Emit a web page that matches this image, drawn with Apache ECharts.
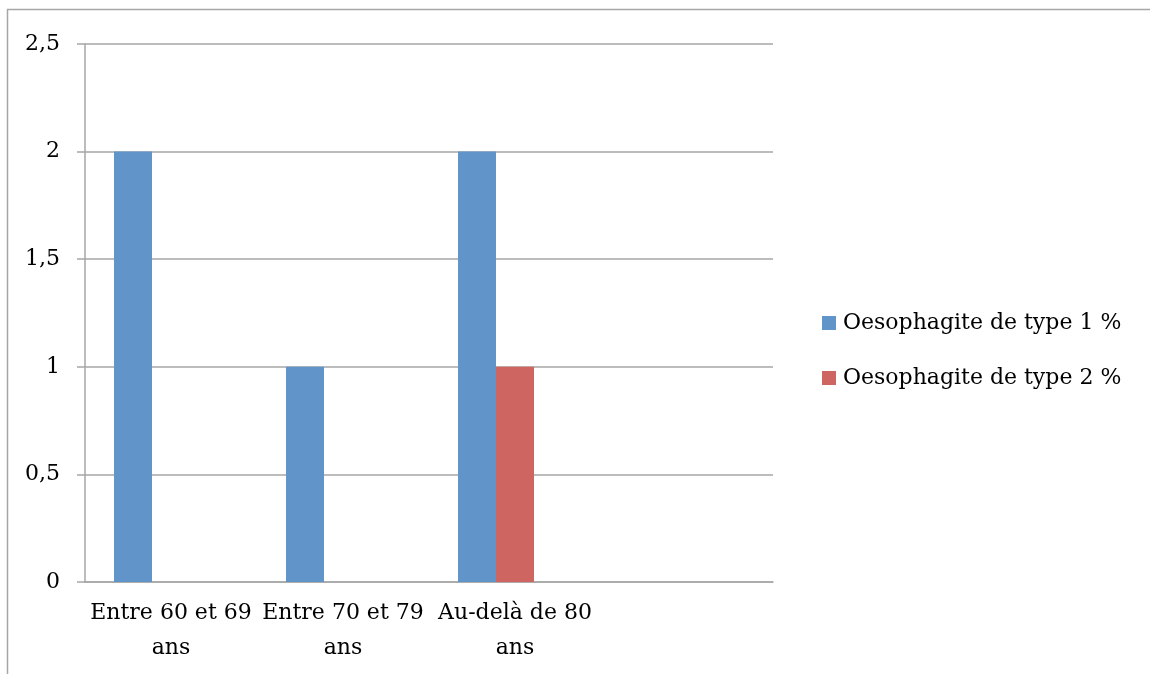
<!DOCTYPE html>
<html><head><meta charset="utf-8">
<script src="https://cdn.jsdelivr.net/npm/echarts@6/dist/echarts.min.js"></script>
<style>html,body{margin:0;padding:0;background:#fff}#c{width:1150px;height:674px}</style>
</head><body><div id="c"></div>
<script>
const categories = ["Entre 60 et 69\nans", "Entre 70 et 79\nans", "Au-delà de 80\nans", ""];
const type1 = [2, 1, 2, null];
const type2 = [null, null, 1, null];
const spacer = [null, null, null, null];
const seriesNames = ["Oesophagite de type 1 %", "Oesophagite de type 2 %"];
const yTicks = [0, 0.5, 1, 1.5, 2, 2.5];

const font = "'DejaVu Serif', serif";
const chart = echarts.init(document.getElementById('c'));
chart.setOption({
  animation: false,
  graphic: [{type:'rect', shape:{x:7.5,y:9.5,width:1200,height:700}, style:{fill:'none', stroke:'#a6a6a6', lineWidth:1.5}, silent:true}],
  grid: {left: 85, right: 377, top: 44, bottom: 92},
  legend: {
    data: seriesNames, orient: 'vertical', left: 817, top: 307, itemGap: 33,
    itemWidth: 14, itemHeight: 14, icon: 'rect',
    textStyle: {fontFamily: font, fontSize: 22, color: '#000', padding:[0,0,0,2]}
  },
  xAxis: {
    type: 'category', data: categories,
    axisLine: {lineStyle: {color: '#a6a6a6', width: 1.5}},
    axisTick: {length: 8, lineStyle: {color: '#a6a6a6', width: 1.5}},
    axisLabel: {fontFamily: font, fontSize: 22, color: '#000', margin: 14, lineHeight: 35, interval: 0}
  },
  yAxis: {
    type: 'value', min: 0, max: 2.5, interval: 0.5,
    axisLine: {show: true, lineStyle: {color: '#a6a6a6', width: 1.5}},
    axisTick: {show: true, length: 8, lineStyle: {color: '#a6a6a6', width: 1.5}},
    splitLine: {lineStyle: {color: '#a6a6a6', width: 1.5}},
    axisLabel: {fontFamily: font, fontSize: 22, color: '#000', margin: 25,
      formatter: v => yTicks.includes(v) ? String(v).replace('.', ',') : ''}
  },
  series: [
    {name: seriesNames[0], type: 'bar', data: type1, barWidth: 38, barGap: '0%', barCategoryGap: '33.7%', itemStyle: {color: '#6195c9'}},
    {name: seriesNames[1], type: 'bar', data: type2, barWidth: 38, itemStyle: {color: '#ce6560'}},
    {name: '', type: 'bar', data: spacer, barWidth: 38}
  ]
});
</script></body></html>
